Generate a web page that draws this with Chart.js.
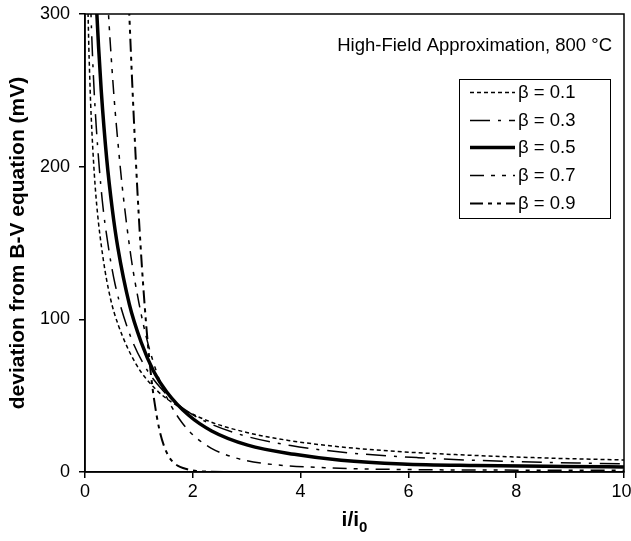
<!DOCTYPE html>
<html lang="en">
<head>
    <meta charset="UTF-8">
    <title>High-Field Approximation, 800 °C</title>
    <script src="https://cdn.jsdelivr.net/npm/chart.js@4.4.0/dist/chart.umd.min.js"></script>
    <style>
        body{
            margin: 0;
            background-color: #fff;
        }
        #devChart{
            display: block;
        }
    </style>
</head>
<body>
    <canvas id="devChart" width="631" height="541"></canvas>
    <script>
        // values: x = i/i0, y = deviation in mV
        var seriesLabels = ['β = 0.1', 'β = 0.3', 'β = 0.5', 'β = 0.7', 'β = 0.9'];

        var x01 = [0.051, 0.062, 0.072, 0.083, 0.104, 0.159, 0.217, 0.34, 0.47, 0.62, 0.95, 1.33, 1.80, 2.34, 3.00, 3.77, 4.70, 5.81, 7.13, 8.71, 10];
        var y01 = [310, 292, 277, 264, 242, 203, 175, 139, 114, 96, 70.5, 53.6, 41.6, 32.7, 25.9, 20.7, 16.6, 13.4, 11.0, 9.0, 7.9];

        var x03 = [0.102, 0.111, 0.155, 0.209, 0.32, 0.436, 0.558, 0.822, 1.114, 1.441, 1.807, 2.22, 2.943, 3.816, 4.879, 6.174, 7.76, 10];
        var y03 = [311, 300, 260, 226, 178, 147, 123, 91, 69, 53.5, 42, 33.3, 23.9, 17.3, 12.6, 9.4, 7.0, 5.3];

        var x05 = [0.2, 0.22, 0.251, 0.301, 0.403, 0.505, 0.609, 0.822, 1.042, 1.273, 1.517, 1.918, 2.35, 3.019, 3.884, 4.751, 5.885, 7.254, 8.914, 10];
        var y05 = [316, 300, 279, 250, 205, 172.5, 147, 110, 85, 66, 52.4, 37.3, 26.9, 17.6, 11.6, 7.7, 5.2, 4.2, 3.6, 3.3];

        var x07 = [0.415, 0.436, 0.457, 0.54, 0.621, 0.7, 0.853, 1.002, 1.147, 1.29, 1.432, 1.576, 1.794, 2.019, 2.337, 2.771, 3.259, 4.452, 6.035, 8.159, 10];
        var y07 = [313, 300, 287.5, 245, 212, 184, 141, 110.5, 87, 69.5, 55.7, 44.8, 32.6, 23.8, 15.7, 9.5, 5.9, 2.8, 1.6, 1.2, 1.1];

        var x09 = [0.788, 0.822, 0.867, 0.937, 0.999, 1.056, 1.108, 1.156, 1.222, 1.283, 1.376, 1.465, 1.551, 1.638, 1.726, 1.818, 1.95, 2.1, 2.718, 10];
        var y09 = [331, 300, 262, 208.5, 167, 134.4, 108.6, 87.9, 64.3, 47.2, 28.4, 17.1, 10.3, 6.3, 4.0, 2.6, 1.3, 0.5, 0.05, 0];

        var xTicks = [0, 2, 4, 6, 8, 10];
        var yTicks = [0, 100, 200, 300];

        var noteText = 'High-Field Approximation, 800 °C';
        var yTitle = 'deviation from B-V equation (mV)';

        var FONT = '"Liberation Sans", Arial, Helvetica, sans-serif';

        // line styles for each beta
        var dashes = [[4, 3], [20, 8, 3, 8], [], [14, 7, 4, 7, 4, 7], [13, 5, 4, 5, 4, 5]];
        var widths = [1.5, 1.5, 3.5, 1.5, 2];

        function toPoints(xs, ys) {
            return xs.map(function(x, i) { return {x: x, y: ys[i]}; });
        }

        var allX = [x01, x03, x05, x07, x09];
        var allY = [y01, y03, y05, y07, y09];

        var datasets = seriesLabels.map(function(lbl, i) {
            return {
                label: lbl,
                data: toPoints(allX[i], allY[i]),
                borderColor: '#000',
                borderWidth: widths[i],
                borderDash: dashes[i],
                pointRadius: 0,
                fill: false,
                cubicInterpolationMode: 'monotone'
            };
        });

        // frame, note, legend box and x title with subscript
        var extras = {
            id: 'extras',
            afterDraw: function(chart) {
                var a = chart.chartArea, c = chart.ctx;
                c.save();
                c.strokeStyle = '#000';
                c.lineWidth = 1.5;
                c.strokeRect(a.left, a.top, a.right - a.left, a.bottom - a.top);

                c.fillStyle = '#000';
                c.font = '18.5px ' + FONT;
                c.textAlign = 'right';
                c.textBaseline = 'middle';
                c.fillText(noteText, a.right - 12, a.top + 32);

                var L = a.right - 165, T = a.top + 65, W = 151, H = 139;
                c.lineWidth = 1;
                c.strokeRect(L + 0.5, T + 0.5, W, H);
                chart.data.datasets.forEach(function(ds, i) {
                    var y = Math.round(T + 13 + i * 27.7) + 0.5;
                    c.beginPath();
                    c.setLineDash(ds.borderDash);
                    c.lineWidth = ds.borderWidth;
                    c.moveTo(L + 11, y);
                    c.lineTo(L + 56, y);
                    c.stroke();
                    c.setLineDash([]);
                    c.textAlign = 'left';
                    c.fillText(ds.label, L + 59, y);
                });

                // x axis title: i/i0 with subscript 0
                var cx = (a.left + a.right) / 2, cy = 520;
                c.font = 'bold 21px ' + FONT;
                var w1 = c.measureText('i/i').width;
                c.font = 'bold 15px ' + FONT;
                var w2 = c.measureText('0').width;
                var start = cx - (w1 + w2) / 2;
                c.textAlign = 'left';
                c.textBaseline = 'alphabetic';
                c.font = 'bold 21px ' + FONT;
                c.fillText('i/i', start, cy + 6);
                c.font = 'bold 15px ' + FONT;
                c.fillText('0', start + w1, cy + 12);
                c.restore();
            }
        };

        new Chart(document.getElementById('devChart'), {
            type: 'line',
            data: {datasets: datasets},
            plugins: [extras],
            options: {
                responsive: false,
                animation: false,
                layout: {
                    autoPadding: false,
                    padding: {top: 14, right: 7, left: 0, bottom: 0}
                },
                plugins: {
                    legend: {display: false},
                    tooltip: {enabled: false}
                },
                scales: {
                    x: {
                        type: 'linear',
                        min: 0,
                        max: 10,
                        afterBuildTicks: function(s) { s.ticks = xTicks.map(function(v) { return {value: v}; }); },
                        afterFit: function(s) { s.height = 69; s.paddingLeft = 0; s.paddingRight = 0; },
                        ticks: {
                            color: '#000',
                            font: {family: FONT, size: 18},
                            padding: 3,
                            maxRotation: 0,
                            // last label sits slightly left of its tick, as in the figure
                            callback: function(v) { return v === 10 ? '10 ' : String(v); }
                        },
                        grid: {drawOnChartArea: false, color: '#000', lineWidth: 1.5, tickLength: 6},
                        border: {color: '#000', width: 1.5}
                    },
                    y: {
                        min: 0,
                        max: 300,
                        afterBuildTicks: function(s) { s.ticks = yTicks.map(function(v) { return {value: v}; }); },
                        afterFit: function(s) { s.width = 85; s.paddingTop = 0; s.paddingBottom = 0; },
                        ticks: {color: '#000', font: {family: FONT, size: 18}, padding: 9},
                        grid: {drawOnChartArea: false, color: '#000', lineWidth: 1.5, tickLength: 6},
                        border: {color: '#000', width: 1.5},
                        title: {
                            display: true,
                            text: yTitle,
                            color: '#000',
                            font: {family: FONT, size: 21, weight: 'bold'},
                            padding: {top: 6, bottom: 0}
                        }
                    }
                }
            }
        });
    </script>
</body>
</html>
